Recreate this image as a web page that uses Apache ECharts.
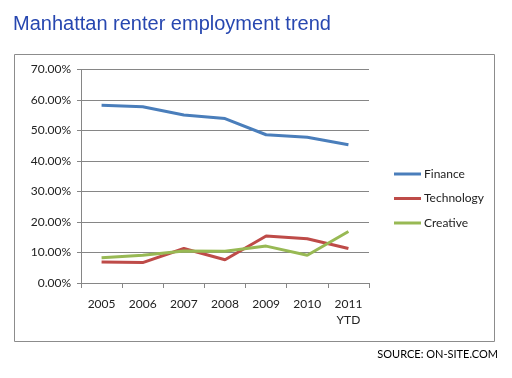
<!DOCTYPE html>
<html><head><meta charset="utf-8">
<script src="https://cdn.jsdelivr.net/npm/echarts@6/dist/echarts.min.js"></script>
<style>html,body{margin:0;padding:0;background:#fff}#c{width:512px;height:378px}</style>
</head><body><div id="c"></div>
<script>
const categories = ['2005','2006','2007','2008','2009','2010','2011\nYTD'];
const finance = [58.3, 57.8, 55.1, 53.9, 48.6, 47.8, 45.3];
const technology = [6.9, 6.7, 11.3, 7.6, 15.4, 14.5, 11.3];
const creative = [8.3, 9.1, 10.5, 10.4, 12.1, 9.1, 16.9];
const yTicks = [0, 10, 20, 30, 40, 50, 60, 70];

const chart = echarts.init(document.getElementById('c'), null, {renderer: 'canvas'});
const font = 'Lato, "Open Sans", sans-serif';
chart.setOption({
  animation: false,
  backgroundColor: '#fff',
  graphic: [
    {type: 'rect', shape: {x: 14.5, y: 54.5, width: 480, height: 287}, style: {fill: 'none', stroke: '#8c8c8c', lineWidth: 1}, z: -1},
    {type: 'text', left: 13, top: 14, style: {text: 'Manhattan renter employment trend', font: '20px "Liberation Sans", Arial, sans-serif', fill: '#2747B0'}},
    {type: 'text', right: 14, top: 349, style: {text: 'SOURCE: ON-SITE.COM', font: '11px ' + font, fill: '#000'}}
  ],
  grid: {left: 81, right: 143, top: 69.5, bottom: 95, containLabel: false},
  legend: {
    orient: 'vertical', left: 389, top: 163, itemGap: 12.5,
    icon: 'rect', itemWidth: 27, itemHeight: 3,
    textStyle: {fontFamily: font, fontSize: 12, color: '#222', padding: [0, 0, 0, -2]},
    data: ['Finance', 'Technology', 'Creative']
  },
  xAxis: {
    type: 'category', data: categories, boundaryGap: true,
    axisLine: {lineStyle: {color: '#868686'}},
    axisTick: {show: true, length: 5, lineStyle: {color: '#868686'}},
    axisLabel: {fontFamily: font, fontSize: 12, color: '#222', margin: 13, lineHeight: 16}
  },
  yAxis: {
    type: 'value', min: yTicks[0], max: yTicks[yTicks.length - 1], interval: 10,
    axisLine: {show: true, lineStyle: {color: '#868686'}},
    axisTick: {show: true, length: 4, lineStyle: {color: '#868686'}},
    splitLine: {lineStyle: {color: '#868686'}},
    axisLabel: {fontFamily: font, fontSize: 12, color: '#222', margin: 10, formatter: v => v.toFixed(2) + '%'}
  },
  series: [
    {name: 'Finance', type: 'line', data: finance, symbol: 'none', lineStyle: {width: 3, color: '#4A7EBB'}, itemStyle: {color: '#4A7EBB'}},
    {name: 'Technology', type: 'line', data: technology, symbol: 'none', lineStyle: {width: 3, color: '#BE4B48'}, itemStyle: {color: '#BE4B48'}},
    {name: 'Creative', type: 'line', data: creative, symbol: 'none', lineStyle: {width: 3, color: '#98B954'}, itemStyle: {color: '#98B954'}}
  ]
});
</script></body></html>
